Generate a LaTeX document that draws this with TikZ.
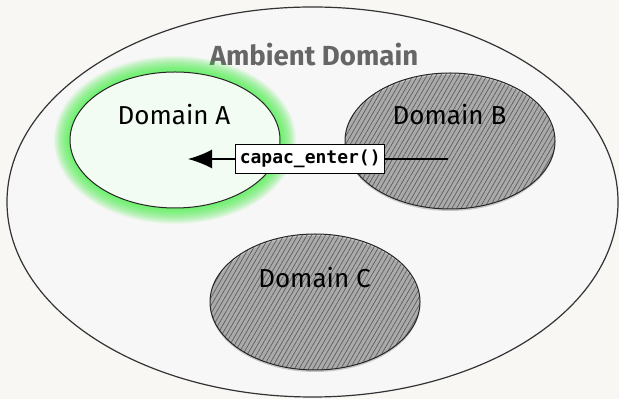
\documentclass[tikz,border=0pt]{standalone}
\usepackage{fontspec}
\setmainfont{Fira Sans}
\setmonofont{DejaVu Sans Mono}
\usetikzlibrary{shapes.geometric,patterns.meta,shadows,arrows.meta}
\definecolor{paper}{HTML}{F8F7F3}
\definecolor{ambientfill}{HTML}{F7F7F7}
\definecolor{enteredfill}{HTML}{F2FCF2}
\definecolor{glowgreen}{HTML}{33F033}
\definecolor{hatchfill}{HTML}{C6C6C6}
\definecolor{hatchline}{HTML}{5A5A5A}
\definecolor{titlegray}{HTML}{666666}

\begin{document}
\begin{tikzpicture}[x=0.5pt,y=-0.5pt,font=\fontsize{13}{15}\selectfont,
  domainbox/.style={ellipse,draw=black!85,line width=0.5pt,inner sep=0pt,outer sep=0pt,
    minimum width=105pt,minimum height=68pt},
  locked/.style={domainbox,preaction={fill=hatchfill},
    pattern={Lines[angle=60,distance=2pt,line width=0.33pt]},pattern color=hatchline,
    drop shadow={shadow xshift=0pt,shadow yshift=-1pt,opacity=0.4}},
  callbox/.style={draw=black,fill=white,line width=0.6pt,inner xsep=2pt,inner ysep=0pt,
    minimum height=14.5pt,font=\ttfamily\bfseries\fontsize{9}{10}\selectfont},
  call/.style={-{Latex[length=12pt,width=9.5pt]},line width=0.75pt}]
% page, in pixel units of the reference
\fill[paper] (0,0) rectangle (619,399);
\useasboundingbox (0,0) rectangle (619,399);
% the ambient domain around everything
\node[ellipse,draw=black!80,line width=0.6pt,fill=ambientfill,inner sep=0pt,outer sep=0pt,
  minimum width=305.5pt,minimum height=195pt] (ambient) at (312.5,202) {};
\node[font=\bfseries\fontsize{13.8}{16}\selectfont,text=titlegray] (ambientlab) at (314,55)
  {Ambient Domain};
% green glow round the domain that is entered
\coordinate (centA) at (175,140);
\foreach \w in {2,4,...,32}
  {\draw[glowgreen,opacity=0.065,line width=\w*0.5pt] (centA) ellipse [x radius=52.5pt,y radius=34pt];}
% the three domains
\node[domainbox,fill=enteredfill] (domA) at (centA) {};
\node[locked] (domB) at (450,141) {};
\node[locked] (domC) at (315,302) {};
\node (labA) at (174,114.5) {Domain A};
\node (labB) at (449.5,114.5) {Domain B};
\node (labC) at (314.5,278) {Domain C};
% the call from B into A
\coordinate (fromB) at (448,159);
\coordinate (toA) at (188,159);
\draw[call] (fromB) -- node[callbox,pos=0.53] (enter) {capac\_enter()} (toA);
\end{tikzpicture}
\end{document}
